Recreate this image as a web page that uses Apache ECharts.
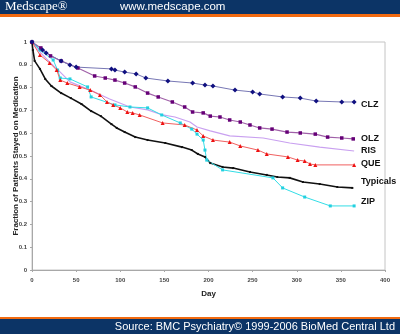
<!DOCTYPE html>
<html>
<head>
<meta charset="utf-8">
<script src="https://cdn.jsdelivr.net/npm/echarts@6/dist/echarts.min.js"></script>
<style>
  html, body { margin: 0; padding: 0; background: #fff; }
  #chart { width: 400px; height: 334px; }
</style>
</head>
<body>
<div id="chart"></div>
<script>
// Fraction of patients still on each medication, by day of follow-up
const clzDays = [0, 12, 16, 33, 43, 50, 90, 94, 105, 118, 129, 154, 182, 196, 205, 230, 250, 258, 284, 304, 322, 351, 365];
const clzVals = [1, 0.965, 0.952, 0.917, 0.899, 0.890, 0.882, 0.877, 0.868, 0.860, 0.842, 0.829, 0.820, 0.811, 0.807, 0.789, 0.781, 0.772, 0.759, 0.754, 0.741, 0.737, 0.737];

const olzDays = [0, 10, 21, 33, 52, 71, 83, 94, 105, 117, 131, 143, 159, 173, 182, 194, 202, 213, 224, 236, 247, 258, 272, 289, 304, 321, 335, 351, 364];
const olzVals = [1, 0.974, 0.939, 0.917, 0.886, 0.851, 0.842, 0.833, 0.820, 0.803, 0.776, 0.759, 0.737, 0.715, 0.693, 0.689, 0.675, 0.671, 0.658, 0.649, 0.636, 0.623, 0.618, 0.605, 0.601, 0.596, 0.583, 0.579, 0.575];

const risDays = [0, 9, 20, 32, 43, 66, 88, 111, 131, 148, 162, 179, 187, 202, 224, 262, 292, 326, 365];
const risVals = [1, 0.956, 0.912, 0.868, 0.825, 0.789, 0.750, 0.715, 0.702, 0.680, 0.671, 0.649, 0.627, 0.610, 0.588, 0.579, 0.557, 0.539, 0.522];

const queDays = [0, 9, 20, 28, 32, 40, 54, 66, 77, 85, 92, 100, 108, 114, 122, 148, 173, 187, 194, 205, 224, 236, 256, 266, 290, 301, 309, 315, 321, 365];
const queVals = [1, 0.943, 0.908, 0.877, 0.833, 0.820, 0.803, 0.789, 0.768, 0.737, 0.724, 0.711, 0.693, 0.689, 0.680, 0.645, 0.636, 0.614, 0.588, 0.570, 0.561, 0.544, 0.526, 0.509, 0.496, 0.482, 0.478, 0.465, 0.461, 0.461];

const zipDays = [0, 9, 24, 29, 32, 43, 63, 67, 94, 111, 131, 147, 168, 181, 187, 194, 196, 198, 216, 273, 284, 309, 338, 365];
const zipVals = [1, 0.965, 0.921, 0.877, 0.842, 0.838, 0.803, 0.759, 0.724, 0.715, 0.711, 0.680, 0.645, 0.618, 0.596, 0.570, 0.526, 0.482, 0.439, 0.404, 0.360, 0.320, 0.281, 0.281];

const typDays = [0, 1, 3, 9, 15, 22, 33, 44, 56, 67, 78, 90, 96, 105, 117, 131, 151, 170, 181, 188, 196, 202, 216, 228, 247, 266, 278, 292, 307, 326, 346, 363];
const typVals = [1, 0.965, 0.917, 0.882, 0.838, 0.807, 0.776, 0.754, 0.728, 0.697, 0.675, 0.640, 0.623, 0.605, 0.583, 0.570, 0.557, 0.539, 0.526, 0.509, 0.496, 0.469, 0.452, 0.447, 0.430, 0.417, 0.408, 0.404, 0.386, 0.377, 0.364, 0.360];

const seriesNames = ['CLZ', 'OLZ', 'RIS', 'QUE', 'Typicals', 'ZIP'];

function pairs(days, vals) {
  return days.map((d, i) => [d, vals[i]]);
}

const SANS = '"Liberation Sans", Arial, sans-serif';

const chart = echarts.init(document.getElementById('chart'), null, { renderer: 'canvas' });

function curve(name, days, vals, lineColor, markColor, symbol, symbolSize, width) {
  return {
    name: name,
    type: 'line',
    data: pairs(days, vals),
    symbol: symbol,
    symbolSize: symbolSize,
    showSymbol: symbol !== 'none',
    lineStyle: { color: lineColor, width: width },
    itemStyle: { color: markColor },
    animation: false
  };
}

// Series labels placed beside the right end of each curve
const labelY = [105, 139, 151, 164, 182, 202];
const labelTexts = seriesNames.map((n, i) => ({
  type: 'text',
  left: 361,
  top: labelY[i] - 5,
  style: { text: n, font: 'bold 9px ' + SANS, fill: '#111' }
}));

chart.setOption({
  backgroundColor: '#fff',
  animation: false,
  grid: {
    left: 32, top: 42, right: 15, bottom: 64,
    containLabel: false, outerBoundsMode: 'none',
    show: true, borderColor: '#c4c4c4', borderWidth: 1, backgroundColor: '#fff'
  },
  xAxis: {
    type: 'value', min: 0, max: 400, interval: 50,
    name: 'Day', nameLocation: 'middle', nameGap: 20,
    nameTextStyle: { fontFamily: SANS, fontWeight: 'bold', fontSize: 8, color: '#222' },
    axisLine: { lineStyle: { color: '#a8a8a8' } },
    axisTick: { show: true, length: 2, lineStyle: { color: '#a8a8a8' } },
    axisLabel: { fontFamily: SANS, fontSize: 6, fontWeight: 'bold', color: '#444', margin: 7 },
    splitLine: { show: false }
  },
  yAxis: {
    type: 'value', min: 0, max: 1, interval: 0.1,
    name: 'Fraction of Patients Stayed on Medication', nameLocation: 'middle',
    nameGap: 12, nameMoveOverlap: false,
    nameTextStyle: { fontFamily: SANS, fontWeight: 'bold', fontSize: 8, color: '#222' },
    axisLine: { show: true, lineStyle: { color: '#a8a8a8' } },
    axisTick: { show: true, length: 2, lineStyle: { color: '#a8a8a8' } },
    axisLabel: { fontFamily: SANS, fontSize: 6, fontWeight: 'bold', color: '#444', margin: 5 },
    splitLine: { show: false }
  },
  series: [
    curve('Typicals', typDays, typVals, '#111', '#111', 'rect', 2, 1.6),
    curve('RIS', risDays, risVals, '#c9a0f0', '#c9a0f0', 'none', 0, 1.2),
    curve('ZIP', zipDays, zipVals, '#33dde6', '#22d0e0', 'rect', 3, 1),
    curve('QUE', queDays, queVals, '#f06060', '#ee1111', 'triangle', 4, 1),
    curve('OLZ', olzDays, olzVals, '#a060a8', '#660077', 'rect', 3.5, 1.2),
    curve('CLZ', clzDays, clzVals, '#7777b4', '#101080', 'diamond', 5, 1)
  ],
  graphic: [
    // header band
    { type: 'rect', left: 0, top: 0, shape: { width: 400, height: 14 }, style: { fill: '#0c3466' } },
    { type: 'rect', left: 0, top: 14, shape: { width: 400, height: 3 }, style: { fill: '#f26a10' } },
    { type: 'text', left: 5, top: 0, style: { text: 'Medscape\u00ae', font: '13px "Liberation Serif", "Times New Roman", serif', fill: '#fff' } },
    { type: 'text', left: 120, top: 1, style: { text: 'www.medscape.com', font: '11.5px ' + SANS, fill: '#fff' } },
    // footer band
    { type: 'rect', left: 0, top: 317, shape: { width: 400, height: 2 }, style: { fill: '#f26a10' } },
    { type: 'rect', left: 0, top: 319, shape: { width: 400, height: 15 }, style: { fill: '#0c3466' } },
    { type: 'text', right: 5, top: 321, style: { text: 'Source: BMC Psychiatry\u00a9 1999-2006 BioMed Central Ltd', font: '11px ' + SANS, fill: '#fff' } }
  ].concat(labelTexts)
});
</script>
</body>
</html>
